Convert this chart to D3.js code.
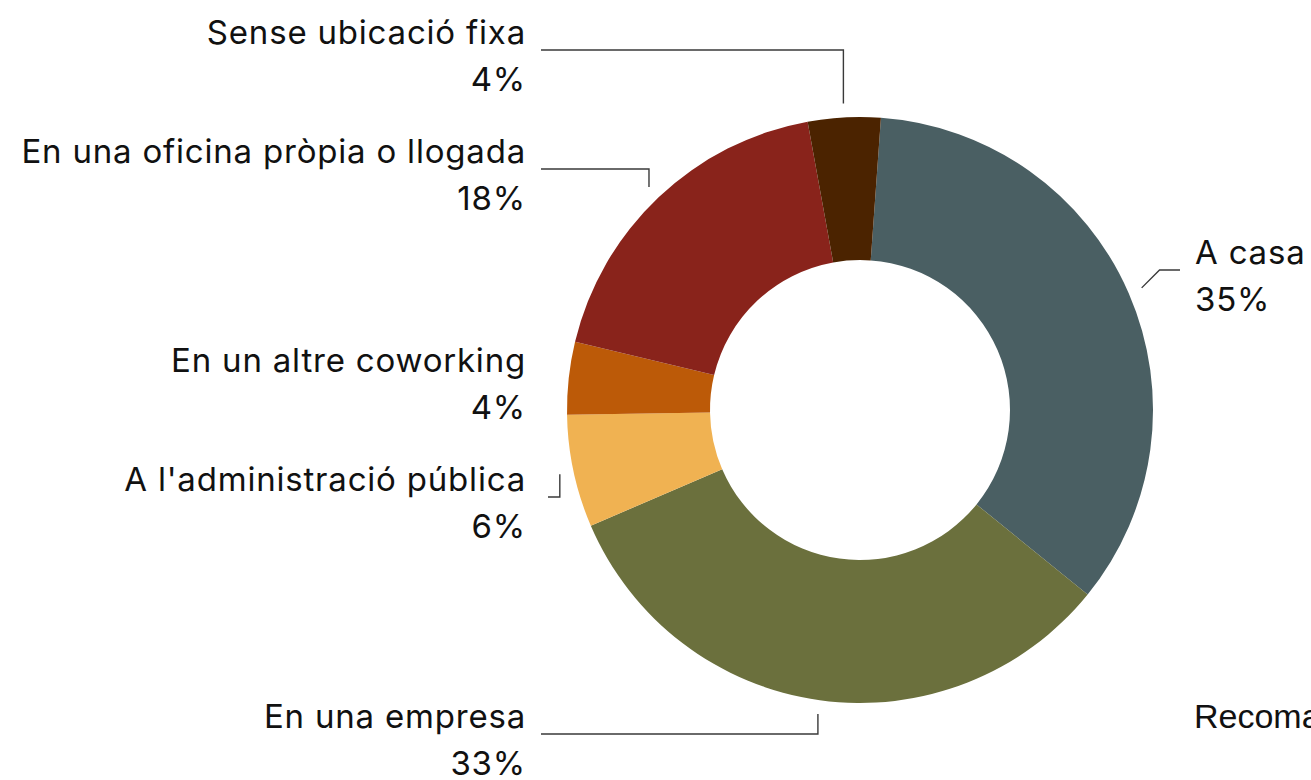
<!DOCTYPE html>
<html>
<head>
<meta charset="utf-8">
<script src="https://cdn.jsdelivr.net/npm/d3@7"></script>
<style>
  body { margin: 0; background: #fff; overflow: hidden; }
  svg { display: block; }
  .lbl { font-family: Inter, Roboto, sans-serif; font-size: 33px; letter-spacing: 0.8px; fill: #111; }
  .leader { fill: none; stroke: #3a3a3a; stroke-width: 1.4; }
</style>
</head>
<body>
<svg id="chart" width="1311" height="780"></svg>
<script>
// data, clockwise from the top
var categories = ['A casa', 'En una empresa', "A l'administració pública", 'En un altre coworking', 'En una oficina pròpia o llogada', 'Sense ubicació fixa'];
var values = [34.7, 32.7, 6.2, 4.0, 18.4, 4.0];
var colors = ['#4a5f63', '#6b703d', '#f0b252', '#bc5a08', '#89231b', '#4b2300'];

// label layout: first baseline, text anchor x, leader end x (null = no leader)
var labelY = [264, 728, 491, 372, 163, 44];
var labelX = [1195, 526, 526, 526, 526, 526];
var leaderEnd = [1180, 541, 548, null, 541, 541];

var svg = d3.select('#chart'),
    cx = 860, cy = 410,
    outerR = 293, innerR = 150,
    start = 4.1 * Math.PI / 180;

var pie = d3.pie().sort(null).value(function(d){ return d; })
  .startAngle(start).endAngle(start + 2 * Math.PI);
var arc = d3.arc().innerRadius(innerR).outerRadius(outerR);
var arcs = pie(values);

var g = svg.append('g').attr('transform', 'translate(' + [cx, cy] + ')');
g.selectAll('path.slice').data(arcs).enter().append('path')
  .attr('class', 'slice')
  .attr('d', arc)
  .attr('fill', function(d, i){ return colors[i]; });

// leader lines
var leaderR = outerR + 14;
arcs.forEach(function(d, i){
  if(leaderEnd[i] === null) return;
  var a = (d.startAngle + d.endAngle) / 2,
      x0 = cx + Math.sin(a) * leaderR,
      y0 = cy - Math.cos(a) * leaderR,
      ly = labelY[i] + 6,
      pts;
  if(labelX[i] > cx){
    // right side: short diagonal then horizontal
    var dy = y0 - ly;
    pts = [[x0, y0], [x0 + dy, ly], [leaderEnd[i], ly]];
  } else {
    pts = [[x0, y0], [x0, ly], [leaderEnd[i], ly]];
  }
  svg.append('path').attr('class', 'leader').attr('d', d3.line()(pts));
});

// labels
arcs.forEach(function(d, i){
  var t = svg.append('text').attr('class', 'lbl')
    .attr('text-anchor', labelX[i] > cx ? 'start' : 'end');
  t.append('tspan').attr('x', labelX[i]).attr('y', labelY[i]).text(categories[i]);
  t.append('tspan').attr('x', labelX[i]).attr('y', labelY[i] + 47).text(Math.round(values[i]) + '%');
});

// clipped title of the neighbouring chart
svg.append('text')
  .attr('x', 1194).attr('y', 728)
  .style('font-family', '"Liberation Sans", Arial, sans-serif')
  .style('font-size', '34px').style('fill', '#111')
  .text('Recomanaries');
</script>
</body>
</html>
